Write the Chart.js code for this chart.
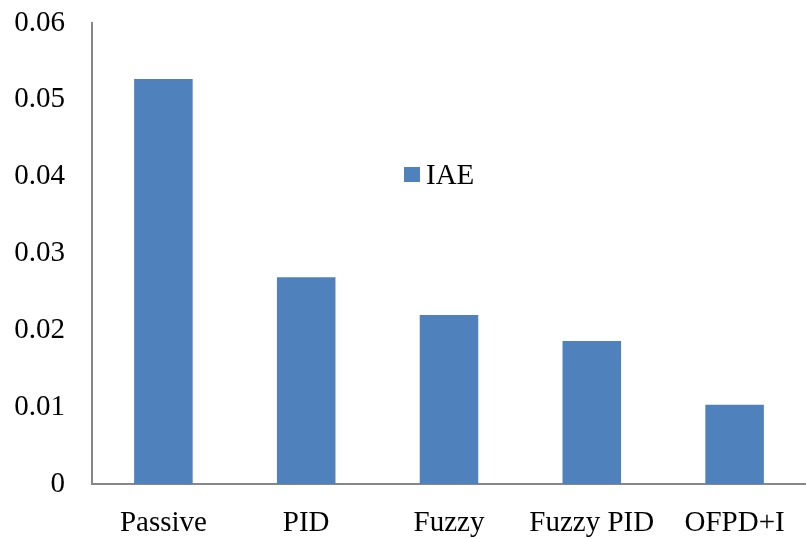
<!DOCTYPE html>
<html>
<head>
<meta charset="utf-8">
<script src="https://cdn.jsdelivr.net/npm/chart.js@4"></script>
<style>
  html, body { margin: 0; padding: 0; background: #fff; }
  #wrap { width: 806px; height: 539px; position: relative; }
</style>
</head>
<body>
<div id="wrap"><canvas id="chart"></canvas></div>
<script>
const categories = ["Passive", "PID", "Fuzzy", "Fuzzy PID", "OFPD+I"];
const iae = [0.0527, 0.0269, 0.0220, 0.0186, 0.0103];
const seriesName = "IAE";
const yMax = 0.06;
const yStep = 0.01;

const font = { family: "'Liberation Serif', 'Times New Roman', serif", size: 29 };
const axisColor = "#878787";
const barColor = "#4F81BD";

// legend sits inside the plot, drawn by hand
const legendInside = {
    id: "legendInside",
    afterDraw(chart) {
        const ctx = chart.ctx;
        const ds = chart.data.datasets[0];
        ctx.save();
        ctx.fillStyle = ds.backgroundColor;
        ctx.fillRect(404, 167, 16, 15);
        ctx.fillStyle = "#000";
        ctx.font = `${font.size}px ${font.family}`;
        ctx.textBaseline = "alphabetic";
        ctx.fillText(ds.label, 426, 184);
        ctx.restore();
    }
};

new Chart(document.getElementById("chart"), {
    type: "bar",
    data: {
        labels: categories,
        datasets: [{
            label: seriesName,
            data: iae,
            backgroundColor: barColor,
            barPercentage: 0.41,
            categoryPercentage: 1.0
        }]
    },
    options: {
        responsive: true,
        maintainAspectRatio: false,
        animation: false,
        layout: { padding: { top: 23, right: 0, left: 0, bottom: 0 } },
        plugins: {
            legend: { display: false },
            tooltip: { enabled: false }
        },
        scales: {
            x: {
                grid: { display: false, drawTicks: false },
                border: { color: axisColor, width: 2 },
                ticks: { color: "#000", font: font, padding: 22, maxRotation: 0, autoSkip: false },
                afterFit(scale) { scale.height = 55; scale.paddingLeft = 0; scale.paddingRight = 0; }
            },
            y: {
                min: 0,
                max: yMax,
                grid: { display: false, drawTicks: false },
                border: { color: axisColor, width: 2 },
                ticks: {
                    stepSize: yStep,
                    color: "#000",
                    font: font,
                    padding: 27,
                    callback: v => Number(v.toFixed(2)).toString()
                },
                afterFit(scale) { scale.width = 92; scale.paddingTop = 0; scale.paddingBottom = 0; }
            }
        }
    },
    plugins: [legendInside]
});
</script>
</body>
</html>
